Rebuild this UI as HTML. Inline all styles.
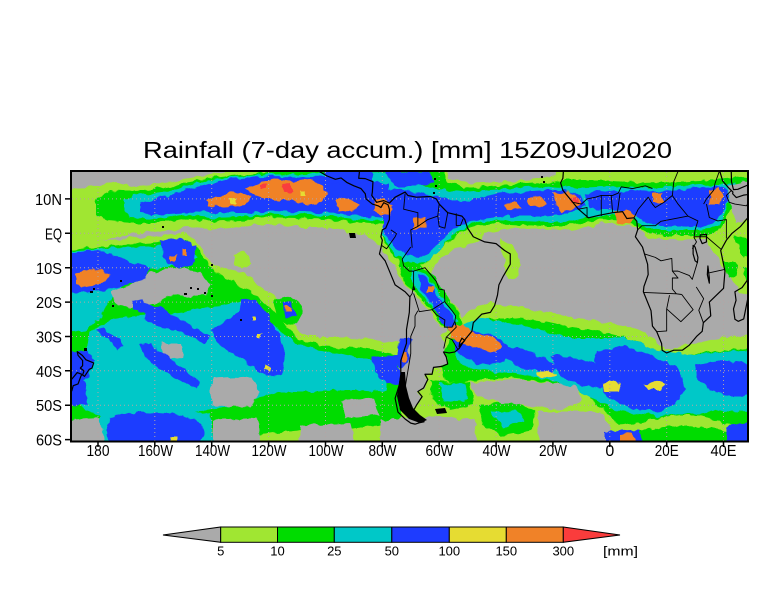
<!DOCTYPE html>
<html><head><meta charset="utf-8"><style>
html,body{margin:0;padding:0;background:#fff;}
svg{display:block;}
.cl polyline,.cl polygon{vector-effect:non-scaling-stroke;}
text{font-family:"Liberation Sans",sans-serif;fill:#000;}
</style></head><body>
<svg width="784" height="612" viewBox="0 0 784 612" xmlns="http://www.w3.org/2000/svg">
<defs>
<clipPath id="mc"><rect x="72" y="172" width="675" height="269"/></clipPath>
<filter id="rough" x="-5%" y="-5%" width="110%" height="110%">
<feTurbulence type="fractalNoise" baseFrequency="0.11" numOctaves="2" seed="3" result="n"/>
<feDisplacementMap in="SourceGraphic" in2="n" scale="7" xChannelSelector="R" yChannelSelector="G"/>
</filter>
</defs>
<rect width="784" height="612" fill="#fff"/>
<text x="143" y="158" font-size="23" textLength="529" lengthAdjust="spacingAndGlyphs">Rainfall (7-day accum.) [mm] 15Z09Jul2020</text>
<g clip-path="url(#mc)">
<rect x="60" y="160" width="700" height="292" fill="#aaaaaa"/>
<g filter="url(#rough)">
<!-- light green -->
<g fill="#a0e632">
<path d="M60,190 L80,188 100,186 115,182 135,186 160,184 180,180 200,177 225,172 240,160 440,160 450,178 470,183 500,182 530,180 555,176 565,160 760,160 L760,245 735,240 725,232 712,238 700,238 685,240 665,240 645,236 637,228 625,225 605,223 590,227 570,230 545,229 520,229 500,229 488,233 475,241 462,247 450,252 440,260 432,270 425,280 415,282 405,278 396,268 388,258 380,246 365,235 345,231 320,227 300,227 280,225 255,225 235,228 210,229 185,227 165,231 140,233 115,237 95,241 60,245 Z"/>
<path d="M705,222 L760,222 760,300 740,292 728,275 718,258 708,245 Z"/>
<path d="M500,240 L512,244 520,258 518,275 508,278 504,262 Z"/>
<path d="M60,244 L100,240 130,238 160,236 185,232 195,240 205,255 215,266 230,270 245,273 258,285 270,293 282,305 292,322 302,334 320,337 345,337 370,339 395,342 420,344 440,336 455,324 470,311 490,302 510,305 540,311 570,317 600,322 630,327 650,336 665,350 690,344 720,338 760,333 L760,452 60,452 Z"/>
<path d="M233,255 L245,252 252,262 242,268 233,263 Z"/>
<path d="M395,255 L412,260 430,276 445,292 457,308 465,324 455,334 440,325 428,310 415,295 402,280 395,268 Z"/>
</g>
<!-- green -->
<g fill="#00dc00">
<path d="M95,200 L110,190 135,191 160,188 185,183 210,178 240,175 270,172 275,160 390,160 L390,224 355,222 325,219 295,218 265,217 240,220 210,221 185,218 160,223 130,223 108,220 95,214 Z"/>
<path d="M383,160 L440,160 448,182 465,188 490,186 520,184 550,182 565,180 600,180 640,183 680,182 720,180 760,176 L760,205 735,205 725,218 718,232 700,236 680,236 660,236 645,232 635,225 620,220 600,219 585,222 565,226 545,226 520,225 500,224 482,224 468,228 456,235 446,243 436,252 427,262 418,266 408,264 398,258 388,250 383,240 Z"/>
<path d="M735,236 L750,238 752,255 742,258 Z"/>
<path d="M724,262 L736,262 738,276 728,278 Z"/>
<path d="M742,268 L760,266 760,284 748,282 Z"/>
<path d="M400,258 L418,262 435,278 447,295 458,312 462,328 452,333 440,322 428,306 414,292 404,280 399,268 Z"/>
<path d="M60,250 L100,247 130,244 160,242 185,240 198,250 208,263 220,275 235,282 250,292 262,300 275,312 288,328 300,340 325,346 355,348 385,352 400,356 L400,430 380,425 360,428 330,432 300,430 270,434 240,437 200,440 160,440 120,438 100,432 80,426 60,424 Z"/>
<path d="M452,340 L470,328 490,318 515,318 545,322 575,328 605,333 635,340 655,352 680,356 710,352 760,348 L760,428 730,425 700,415 680,415 660,418 640,422 620,425 605,412 588,396 565,386 540,381 510,379 480,379 460,383 445,380 440,360 445,350 Z"/>
<path d="M430,380 L470,383 474,405 450,410 432,400 Z"/>
<path d="M480,405 L510,400 535,410 532,430 500,436 482,425 Z"/>
<path d="M640,430 L680,425 720,430 760,435 760,452 640,452 Z"/>
<path d="M274,300 L290,296 301,305 300,320 288,326 277,318 Z"/>
<path d="M88,286 L100,284 104,296 92,298 Z"/>
</g>
<!-- cyan -->
<g fill="#00c8c8">
<path d="M125,200 L135,196 160,193 185,187 210,180 240,176 270,174 390,172 L390,221 355,219 325,216 295,215 265,214 240,217 210,218 185,215 160,219 130,218 125,212 Z"/>
<path d="M383,176 L420,184 440,189 460,192 490,190 520,188 550,186 575,188 600,186 640,188 680,186 720,184 735,182 L735,200 728,205 718,225 700,231 680,231 660,231 645,227 636,220 620,216 600,216 585,218 565,222 545,222 520,221 500,221 480,221 467,226 455,234 445,243 436,254 426,262 416,264 406,261 397,255 388,246 383,235 Z"/>
<path d="M60,252 L110,248 150,247 185,244 198,258 175,265 148,270 122,284 110,300 100,318 85,330 60,335 Z"/>
<path d="M90,330 L120,318 150,315 180,312 205,308 230,305 245,300 262,312 280,330 300,345 330,352 360,358 385,362 L385,392 360,390 340,390 310,392 280,392 250,400 220,408 190,412 160,414 130,416 105,418 85,412 75,395 80,370 Z"/>
<path d="M100,405 L170,405 210,415 215,452 100,452 Z"/>
<path d="M455,328 L480,318 510,322 540,330 570,338 600,338 630,338 655,350 690,355 720,352 760,350 L760,412 720,410 700,414 680,414 660,417 640,414 615,410 595,400 575,390 550,380 520,375 495,372 470,368 455,360 Z"/>
<path d="M440,383 L465,385 468,400 445,402 Z"/>
<path d="M490,412 L515,410 525,420 505,428 Z"/>
<path d="M412,268 L424,274 438,290 450,306 458,322 452,330 442,320 430,304 418,290 410,278 Z"/>
</g>
<!-- gray holes -->
<g fill="#aaaaaa">
<path d="M112,290 L130,285 150,273 175,267 200,272 210,285 205,296 190,297 175,294 155,302 140,308 120,306 112,298 Z"/>
<path d="M161,343 L181,343 183,357 163,358 Z"/>
<path d="M212,378 L252,376 258,392 250,407 215,405 210,392 Z"/>
<path d="M60,420 L100,418 105,452 60,452 Z"/>
<path d="M213,420 L258,418 262,452 213,452 Z"/>
<path d="M340,400 L375,398 380,415 345,418 Z"/>
<path d="M300,425 L350,422 355,452 300,452 Z"/>
<path d="M470,382 L520,380 575,386 582,400 562,410 537,406 500,402 476,396 Z"/>
<path d="M537,412 L600,412 612,430 600,452 540,452 Z"/>
<path d="M380,420 L440,416 475,420 480,452 380,452 Z"/>
<path d="M728,185 L760,178 760,218 735,222 Z"/>
<path d="M404,340 L425,338 440,336 446,342 443.5,351.9 446.3,357.1 447.7,364 442,366.4 433.5,367.4 432.1,374.3 425,374.3 427.8,379.4 423.5,388 417.9,391.5 422.1,396.6 416.4,405.2 413.6,410.4 405,405 400,380 401,360 Z"/>
</g>
<!-- blue -->
<g fill="#1e3cff">
<path d="M140,203 L160,198 180,192 200,186 225,180 250,177 280,176 310,177 340,176 370,180 388,185 L388,218 360,216 330,213 300,212 270,211 245,213 220,213 195,212 170,214 150,215 140,210 Z"/>
<path d="M318,160 L372,160 372,181 350,186 330,183 Z"/>
<path d="M385,172 L430,172 435,182 415,186 395,186 Z"/>
<path d="M383,192 L400,188 415,192 430,196 445,198 460,202 480,198 500,194 520,192 545,190 565,190 580,195 585,205 575,212 560,214 540,216 520,216 500,217 480,219 465,224 450,232 438,244 428,254 418,258 405,254 395,246 387,236 383,225 Z"/>
<path d="M585,195 L600,190 620,192 640,190 660,192 680,190 700,188 715,185 728,190 730,200 724,210 715,222 700,228 680,226 660,226 645,222 635,215 620,210 600,210 590,208 Z"/>
<path d="M60,255 L90,250 110,254 130,262 150,268 145,280 125,285 105,290 85,292 60,292 Z"/>
<path d="M160,240 L180,238 195,246 193,265 180,268 165,262 Z"/>
<path d="M132,301 L142,299 175,317 210,335 205,343 170,327 132,309 Z"/>
<path d="M143,307 L160,305 180,320 178,330 160,328 145,318 Z"/>
<path d="M240,298 L255,300 268,315 280,335 285,355 282,375 270,378 250,365 230,352 215,340 210,330 225,322 238,312 Z"/>
<path d="M60,350 L88,352 95,360 88,375 80,385 60,382 Z"/>
<path d="M60,385 L85,380 88,405 60,408 Z"/>
<path d="M110,418 L140,412 175,414 200,422 205,435 195,452 115,452 105,432 Z"/>
<path d="M140,345 L150,343 200,382 195,390 145,358 Z"/>
<path d="M95,330 L105,328 125,345 118,350 Z"/>
<path d="M372,357 L398,355 402,385 385,383 375,372 Z"/>
<path d="M400,338 L410,338 408,362 401,370 397,358 Z"/>
<path d="M418,275 L428,280 440,298 452,316 458,328 450,332 440,318 430,302 420,288 Z"/>
<path d="M455,335 L470,330 495,335 510,348 505,362 485,365 465,360 455,350 Z"/>
<path d="M500,345 L520,348 545,358 560,368 550,373 525,368 505,360 Z"/>
<path d="M550,355 L580,358 600,365 610,380 600,388 580,385 560,375 Z"/>
<path d="M598,350 L625,345 650,355 665,362 680,370 685,390 675,405 660,412 640,410 620,405 605,395 600,380 595,365 Z"/>
<path d="M695,365 L720,360 760,365 760,395 730,395 710,390 698,380 Z"/>
<path d="M605,432 L640,430 645,452 605,452 Z"/>
<path d="M727,425 L760,422 760,452 727,452 Z"/>
<path d="M282,303 L292,302 296,315 287,318 Z"/>
</g>
<!-- orange -->
<g fill="#f08228">
<path d="M205,200 L220,195 240,192 250,198 245,205 225,207 208,206 Z"/>
<path d="M245,188 L260,182 275,179 295,181 310,179 323,185 328,195 318,204 305,205 292,200 278,200 262,198 250,195 Z"/>
<path d="M335,200 L348,198 358,205 352,212 338,210 Z"/>
<path d="M375,200 L385,198 390,210 382,215 374,210 Z"/>
<path d="M505,204 L517,201 521,208 507,211 Z"/>
<path d="M527,198 L542,197 546,205 530,206 Z"/>
<path d="M553,194 L570,191 580,200 574,210 560,212 556,204 Z"/>
<path d="M615,211 L626,209 636,216 631,224 617,222 Z"/>
<path d="M653,193 L663,193 663,203 653,203 Z"/>
<path d="M709,190 L719,188 723,196 720,204 710,204 Z"/>
<path d="M383,203 L392,205 390,215 383,214 Z"/>
<path d="M413,218 L425,217 427,228 415,230 Z"/>
<path d="M427,287 L434,287 434,294 427,294 Z"/>
<path d="M75,273 L95,269 110,274 105,284 85,287 75,283 Z"/>
<path d="M448,327 L462,325 475,333 495,337 502,345 495,352 480,350 465,345 452,338 Z"/>
<path d="M620,435 L633,433 636,452 620,452 Z"/>
<path d="M285,307 L292,307 292,313 286,313 Z"/>
<path d="M170,255 L176,255 176,260 170,260 Z"/>
<path d="M183,250 L188,250 188,256 183,256 Z"/>
<path d="M402,352 L407,352 406,362 401,362 Z"/>
</g>
<!-- yellow -->
<g fill="#e6dc32">
<path d="M602,383 L612,380 622,384 618,392 605,392 Z"/>
<path d="M643,385 L655,381 667,383 660,390 648,390 Z"/>
<path d="M537,372 L548,371 557,375 548,378 538,377 Z"/>
<path d="M230,199 L236,199 236,204 230,204 Z"/>
<path d="M300,190 L306,190 306,195 300,195 Z"/>
<path d="M252,316 L256,316 256,321 252,321 Z"/>
<path d="M258,333 L262,333 262,338 258,338 Z"/>
<path d="M265,365 L272,368 270,372 264,369 Z"/>
<path d="M170,437 L177,437 177,441 170,441 Z"/>
</g>
<g fill="#fa3c3c">
<path d="M283,185 L292,184 292,192 284,192 Z"/>
<path d="M260,184 L266,184 266,189 260,189 Z"/>
<path d="M572,197 L577,197 577,203 572,203 Z"/>
</g>
</g>
<!-- dotted grid -->
<g stroke="#b4a4a4" stroke-width="1" stroke-dasharray="1,3" fill="none">
<path d="M98,172V441M154.8,172V441M211.7,172V441M268.6,172V441M325.5,172V441M382.3,172V441M439.2,172V441M496.1,172V441M552.9,172V441M609.8,172V441M666.7,172V441M723.5,172V441"/>
<path d="M72,198.9H747M72,233.3H747M72,267.7H747M72,302.1H747M72,336.5H747M72,370.8H747M72,405.2H747"/>
</g>
<!-- land black fills -->
<g fill="#000">
<path d="M401,372 L405,372 406,386 409,398 413,408 420,415 427,420 420,423 409,419 400,410 397,396 399,383 Z"/>
<path d="M435,409 L445,408 447,413 437,414 Z"/>
<path d="M349,233 L355,233 356,238 350,238 Z"/>
<rect x="90" y="291" width="3" height="2"/><rect x="93" y="288" width="2" height="2"/><rect x="112" y="305" width="2" height="2"/>
<rect x="120" y="280" width="2" height="2"/><rect x="184" y="293" width="3" height="2"/><rect x="190" y="287" width="2" height="2"/>
<rect x="197" y="288" width="2" height="2"/><rect x="204" y="292" width="2" height="2"/><rect x="211" y="295" width="2" height="2"/>
<rect x="211" y="264" width="2" height="2"/><rect x="240" y="319" width="2" height="2"/><rect x="162" y="226" width="2" height="2"/>
<rect x="541" y="176" width="2" height="2"/><rect x="543" y="181" width="2" height="2"/>
<rect x="434" y="178" width="2" height="2"/><rect x="435" y="185" width="2" height="2"/><rect x="433" y="192" width="2" height="2"/>
<rect x="84" y="348" width="3" height="3"/>
</g>
<!-- coastlines & borders (lon/lat) -->
<g class="cl" transform="matrix(2.8435 0 0 -3.4386 609.8 233.3)" fill="none" stroke="#000" stroke-width="1.2" stroke-linejoin="round">
<polyline points="-88,18.3 -88.3,16 -86,15.9 -83.3,15 -83.5,12 -83.7,11 -82,9 -79.5,9.5 -77.5,8.8 -75.5,10.5 -72,12 -71,11 -68,10.5 -63,10.7 -61,10 -60,8.5 -57,6 -52,5 -51,4 -50,1.5 -48,-1 -44,-2.5 -40,-3 -37,-5 -35,-6 -35,-9 -37.5,-12.5 -39,-15 -39.5,-18 -40.5,-21 -42,-23 -45,-23.5 -48,-26 -48.5,-28.5 -51,-31 -53,-33.5 -54.5,-34.5 -56.5,-34.8 -58.5,-34.5 -57.5,-36 -57,-38 -59,-38.7 -62,-39 -62.5,-41 -65,-41 -64,-42.5 -65.5,-45 -67.5,-46 -66,-47.5 -68,-50 -69,-51.5 -68.4,-52.4 -68.5,-53 -66.5,-54.5 -65.3,-54.8 -67,-55.1 -68.5,-55.5 -70,-55.2 -72,-54 -74.5,-52 -75.5,-48 -74,-44 -73.5,-41 -73.5,-37 -71.5,-32 -71.5,-28 -70.5,-23 -70.3,-18.5 -72,-17 -75.5,-15 -77,-12 -79,-8 -81,-6 -80.3,-3.5 -80,-2 -80.5,-1 -80,1 -78.8,1.5 -77.5,4 -77.5,7 -78,8.3 -79.5,8.9 -80.5,7.5 -81.5,8 -83.5,8.5 -85.7,10 -86,11.5 -87.5,13 -90,13.8 -92.5,14.8 -94.5,16.1 -96.5,15.7 -99.5,16.7 -102,17.9 -103,18.3"/>
<polyline points="-16.3,18.3 -16.5,16 -17.3,14.7 -16.5,12.5 -15,11 -13,9 -11,7 -7.5,4.5 -4,5.2 1,6 4.5,6.3 6,4.3 8.5,4.5 9.5,3.5 9.8,1 9,-1 11.5,-4 12.2,-6 13.3,-9 13.5,-12 12,-15.5 11.8,-17 14.5,-22.5 15,-27 16.5,-28.6 18.2,-32 18.4,-34 20,-34.8 22.5,-34 25.5,-34 28,-32.5 30.5,-30 32.5,-28.5 32.9,-26 35.5,-24 35.3,-22 35,-20 36.5,-18.8 40,-16 40.5,-11 39.5,-7 39,-5 41,-2 43,0 46,2 49,5"/>
<polyline points="38.6,18.3 39.7,15.2 41.7,13.3 43.3,12 43.2,11.5 44.5,10.4 47,11.1 49,11.3"/>
<polyline points="42.7,18.3 42.8,15 43.5,12.7 45,12.8 49,14.2"/>
<polyline points="49,-12.8 48.5,-13.5 46.5,-15.8 44,-17 44.4,-19.5 43.5,-22 44,-25 45.2,-25.6 47.1,-24.9 49,-17"/>
<polygon points="-187.3,-34.4 -185.5,-35.5 -184.2,-36.8 -181.5,-37.7 -182.1,-39.2 -183.1,-39.6 -184.7,-41.6 -185.4,-41.2 -184.9,-40 -186.2,-39.2 -185.4,-38.5 -185.4,-37 -187,-35.5"/>
<polygon points="-185.7,-41 -187.3,-40.5 -188.8,-42 -190,-43.2 -191.7,-44.2 -193.5,-45.8 -193,-46.3 -191,-46.6 -189.2,-45.8 -188.7,-44.3 -187,-43.8 -186.3,-42.2"/>
<polygon points="31.8,-0.5 34,-0.3 34,-2.5 32.5,-3 31.7,-1.5"/>
<polygon points="29.3,-3.5 30,-4 31,-7 30.8,-8.5 30,-8 29.3,-6"/>
<polygon points="34.5,-9.5 35,-13 35,-14.5 34.3,-12"/>
<polygon points="-69,-15.5 -68.6,-16.3 -69.3,-16.4"/>
<polygon points="-52,-30.5 -51,-31.2 -52.2,-32.1 -53,-33 -52.8,-31.8"/>
</g>
<g class="cl" transform="matrix(2.8435 0 0 -3.4386 609.8 233.3)" fill="none" stroke="#000" stroke-width="0.9" stroke-linejoin="round">
<polyline points="-72,11.5 -72.5,7 -67.5,6 -67.5,2 -70,1 -69.5,-4.2"/>
<polyline points="-80.3,-3.5 -78.5,-4.5 -75.5,-1 -75,-0.1 -77,1"/>
<polyline points="-70,-4 -73,-7.5 -72.5,-9.5 -70.5,-11 -69,-11 -69,-15 -69.5,-17.5 -70.3,-18.5"/>
<polyline points="-69,-11 -65,-10 -61,-14 -60,-16.2 -58.2,-16.5 -58,-19.8 -62.5,-22.2 -67,-22.8 -69,-17.5"/>
<polyline points="-67.5,-22.5 -68.5,-24 -68.5,-27 -70,-30 -70,-35 -71,-40 -71.8,-44 -72,-48 -73,-50 -69,-52"/>
<polyline points="-62.5,-22.2 -61,-23.7 -58,-25.2 -58.2,-27.3 -55.5,-27.3 -54.5,-25.6 -54.2,-24 -55.5,-22.5 -58,-20"/>
<polyline points="-54.5,-25.6 -54,-27.3 -57.5,-30.2 -58.4,-33.5"/>
<polyline points="-57.5,-30.2 -55.5,-30.9 -53.5,-33.7"/>
<polyline points="-60,8.5 -60.5,5 -60,2 -58,1.5 -57,6"/>
<polyline points="-54,5.8 -54,2.2"/>
<polyline points="-51.6,4.2 -52.5,2.3 -54,2.2"/>
<polyline points="-67.5,2 -64,4 -60.5,5"/>
<polyline points="11.8,-17.2 23.4,-17.6 25.3,-17.8"/>
<polyline points="16.5,-28.6 20,-28.4 20,-22 21,-18"/>
<polyline points="20,-22 25,-25.7 29.3,-22.2 25.3,-17.8"/>
<polyline points="32.9,-26 31.3,-22.4 33,-19 30.4,-15.6"/>
<polyline points="22,-11 24,-11 28,-12.3 29,-13.4 30.8,-8.5"/>
<polyline points="12.2,-6 16,-7 18,-8 21.8,-7.3 22,-11 24,-13 22,-13 22,-16.2 23.4,-17.6"/>
<polyline points="40.4,-10.5 35,-11.5"/>
<polyline points="39.2,-4.7 34,-1"/>
<polyline points="41,-1.5 41,4 38,3.6 35,4.6 34,8.5"/>
<polyline points="9.8,1 11.3,2.2 16,2.2 18,3.5 22.5,4.2 27.5,5 31,3.6 30,1 29.6,-1.2"/>
<polyline points="8.5,4.5 10,7 13.5,10.5 15,8.5 16,7.5 19,9 22,11 24,8.5 27.5,5"/>
<polyline points="-13,9 -10,8.5 -8,10 -5,10.5 -3,11 1,11 3,11.7 4,13.5 8,13 12.5,13.8 15,13"/>
<polyline points="-11,7 -8,7.5 -8,4.5"/>
<polyline points="-3,5 -3,11"/>
<polyline points="1,6 0.5,11"/>
<polyline points="2.7,6.3 3.6,11.7"/>
<polyline points="22,11 22.5,15 24,18"/>
<polyline points="33,8.5 34,10 36.5,12.5 37,14.5 38.5,18"/>
<polyline points="42.8,12.5 41,11 42,9 44,8.5 48,8 49,9"/>
<polyline points="34,-1 30,-1 29.6,-1.2 30.5,-2.5 29,-4.5"/>
</g>
</g>
<!-- frame -->
<rect x="71" y="171" width="677" height="270.5" fill="none" stroke="#000" stroke-width="2"/>
<!-- ticks -->
<g stroke="#000" stroke-width="1.5">
<path d="M65,198.9H71M65,233.3H71M65,267.7H71M65,302.1H71M65,336.5H71M65,370.8H71M65,405.2H71M65,439.6H71"/>
<path d="M98,441V447M154.8,441V447M211.7,441V447M268.6,441V447M325.5,441V447M382.3,441V447M439.2,441V447M496.1,441V447M552.9,441V447M609.8,441V447M666.7,441V447M723.5,441V447"/>
</g>
<g font-size="16" text-anchor="end">
<text x="62" y="205" textLength="27" lengthAdjust="spacingAndGlyphs">10N</text>
<text x="62" y="239.5" textLength="17" lengthAdjust="spacingAndGlyphs">EQ</text>
<text x="62" y="274" textLength="26" lengthAdjust="spacingAndGlyphs">10S</text>
<text x="62" y="308" textLength="26" lengthAdjust="spacingAndGlyphs">20S</text>
<text x="62" y="342.5" textLength="26" lengthAdjust="spacingAndGlyphs">30S</text>
<text x="62" y="377" textLength="26" lengthAdjust="spacingAndGlyphs">40S</text>
<text x="62" y="411" textLength="26" lengthAdjust="spacingAndGlyphs">50S</text>
<text x="62" y="445.5" textLength="26" lengthAdjust="spacingAndGlyphs">60S</text>
</g>
<g font-size="16" text-anchor="middle">
<text x="98" y="456" textLength="23" lengthAdjust="spacingAndGlyphs">180</text>
<text x="155.5" y="456" textLength="35" lengthAdjust="spacingAndGlyphs">160W</text>
<text x="212.5" y="456" textLength="35" lengthAdjust="spacingAndGlyphs">140W</text>
<text x="269" y="456" textLength="35" lengthAdjust="spacingAndGlyphs">120W</text>
<text x="326" y="456" textLength="35" lengthAdjust="spacingAndGlyphs">100W</text>
<text x="382.5" y="456" textLength="28" lengthAdjust="spacingAndGlyphs">80W</text>
<text x="439.5" y="456" textLength="28" lengthAdjust="spacingAndGlyphs">60W</text>
<text x="496.5" y="456" textLength="28" lengthAdjust="spacingAndGlyphs">40W</text>
<text x="553" y="456" textLength="28" lengthAdjust="spacingAndGlyphs">20W</text>
<text x="609.8" y="456">0</text>
<text x="666.7" y="456" textLength="24" lengthAdjust="spacingAndGlyphs">20E</text>
<text x="723.5" y="456" textLength="26" lengthAdjust="spacingAndGlyphs">40E</text>
</g>
<!-- colorbar -->
<g stroke="#000" stroke-width="1">
<polygon points="163,535 220.7,527 220.7,542.3" fill="#aaaaaa"/>
<rect x="220.7" y="527" width="56.8" height="15.3" fill="#a0e632"/>
<rect x="277.5" y="527" width="56.8" height="15.3" fill="#00dc00"/>
<rect x="334.3" y="527" width="57.5" height="15.3" fill="#00c8c8"/>
<rect x="391.8" y="527" width="57.5" height="15.3" fill="#1e3cff"/>
<rect x="449.3" y="527" width="57" height="15.3" fill="#e6dc32"/>
<rect x="506.3" y="527" width="57" height="15.3" fill="#f08228"/>
<polygon points="563.3,527 620,535 563.3,542.3" fill="#fa3c3c"/>
</g>
<g font-size="13" text-anchor="middle">
<text x="220.7" y="555.5">5</text>
<text x="277.5" y="555.5">10</text>
<text x="334.3" y="555.5">25</text>
<text x="391.8" y="555.5">50</text>
<text x="449.3" y="555.5">100</text>
<text x="506.3" y="555.5">150</text>
<text x="563.3" y="555.5">300</text>
<text x="620.5" y="555.5" textLength="35" lengthAdjust="spacingAndGlyphs">[mm]</text>
</g>
</svg>
</body></html>
